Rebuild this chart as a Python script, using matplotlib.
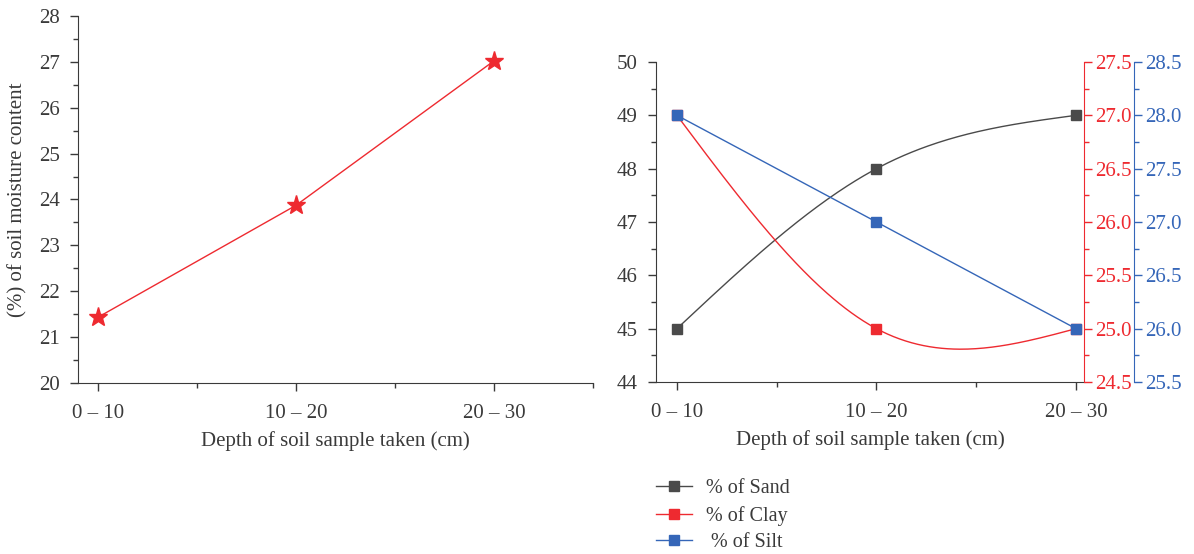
import numpy as np
import matplotlib.pyplot as plt
from matplotlib.ticker import MultipleLocator

plt.rcParams['font.family'] = ['Liberation Serif', 'DejaVu Serif']

depth_labels = ['0 – 10', '10 – 20', '20 – 30']
moisture = [21.43, 23.87, 27.02]
sand = [45, 48, 49]
clay = [27.0, 25.0, 25.0]
silt = [28.0, 27.0, 26.0]

GRAY = '#4a4a4a'
RED = '#ee2a30'
BLUE = '#3566b8'
TXT = '#3a3a3a'


def natural_spline(y, n=200):
    # natural cubic spline through equally spaced points (x = 0, 1, 2, ...)
    y = np.asarray(y, dtype=float)
    k = len(y)
    A = np.zeros((k, k))
    b = np.zeros(k)
    A[0, 0] = A[-1, -1] = 1
    for i in range(1, k - 1):
        A[i, i - 1:i + 2] = [1, 4, 1]
        b[i] = 6 * (y[i - 1] - 2 * y[i] + y[i + 1])
    M = np.linalg.solve(A, b)
    xs = np.linspace(0, k - 1, n)
    i = np.minimum(xs.astype(int), k - 2)
    t = xs - i
    ys = (y[i] * (1 - t) + y[i + 1] * t
          + M[i] / 6 * ((1 - t) ** 3 - (1 - t))
          + M[i + 1] / 6 * (t ** 3 - t))
    return xs, ys


fig = plt.figure(figsize=(11.94, 5.54), dpi=100)
x = np.arange(len(depth_labels))

# ---- left panel ----
ax1 = fig.add_axes([0.0653, 0.3087, 0.4313, 0.6625])
ax1.plot(x, moisture, color=RED, lw=1, marker='*', ms=14, mfc=RED, mec=RED)
ax1.set_xlim(-0.1, 2.5)
ax1.set_ylim(20, 28)
ax1.set_xticks(x)
ax1.set_xticklabels(depth_labels)
ax1.xaxis.set_minor_locator(MultipleLocator(0.5))
ax1.yaxis.set_major_locator(MultipleLocator(1))
ax1.yaxis.set_minor_locator(MultipleLocator(0.5))
ax1.set_xlabel('Depth of soil sample taken (cm)', fontsize=15, color=TXT, labelpad=6)
ax1.set_ylabel('(%) of soil moisture content', fontsize=15, color=TXT, labelpad=8)
for s in ['top', 'right']:
    ax1.spines[s].set_visible(False)

# ---- right panel ----
ax2 = fig.add_axes([0.5494, 0.3105, 0.3585, 0.5776])
ax3 = ax2.twinx()
ax4 = ax2.twinx()
ax4.spines['right'].set_position(('outward', 36))

xs, ys = natural_spline(sand)
ax2.plot(xs, ys, color=GRAY, lw=1)
ax2.plot(x, sand, ls='none', marker='s', ms=7, color=GRAY)
xs, ys = natural_spline(clay)
ax3.plot(xs, ys, color=RED, lw=1)
ax3.plot(x, clay, ls='none', marker='s', ms=7, color=RED)
xs, ys = natural_spline(silt)
ax4.plot(xs, ys, color=BLUE, lw=1)
ax4.plot(x, silt, ls='none', marker='s', ms=7, color=BLUE)

ax2.set_xlim(-0.105, 2.04)
ax2.set_ylim(44, 50)
ax3.set_ylim(24.5, 27.5)
ax4.set_ylim(25.5, 28.5)
ax2.set_xticks(x)
ax2.set_xticklabels(depth_labels)
ax2.xaxis.set_minor_locator(MultipleLocator(0.5))
ax2.yaxis.set_major_locator(MultipleLocator(1))
ax2.yaxis.set_minor_locator(MultipleLocator(0.5))
ax3.yaxis.set_major_locator(MultipleLocator(0.5))
ax3.yaxis.set_minor_locator(MultipleLocator(0.25))
ax4.yaxis.set_major_locator(MultipleLocator(0.5))
ax4.yaxis.set_minor_locator(MultipleLocator(0.25))
ax3.yaxis.set_major_formatter('{x:.1f}')
ax4.yaxis.set_major_formatter('{x:.1f}')
ax2.set_xlabel('Depth of soil sample taken (cm)', fontsize=15, color=TXT, labelpad=6)
ax2.spines['top'].set_visible(False)
ax2.spines['right'].set_visible(False)
for a in (ax3, ax4):
    a.spines['top'].set_visible(False)
    a.spines['left'].set_visible(False)
    a.spines['bottom'].set_visible(False)
ax3.spines['right'].set_color(RED)
ax4.spines['right'].set_color(BLUE)
ax3.tick_params(axis='y', which='both', colors=RED)
ax4.tick_params(axis='y', which='both', colors=BLUE)

for a in (ax1, ax2):
    for s in ['left', 'bottom']:
        a.spines[s].set_color(TXT)
    a.tick_params(which='both', colors=TXT)
    a.tick_params(axis='x', which='major', pad=9)
    a.tick_params(axis='y', which='major', pad=7)
for a in (ax1, ax2, ax3, ax4):
    a.tick_params(which='major', length=6, width=1, labelsize=15)
    a.tick_params(which='minor', length=3.5, width=1)
ax3.tick_params(axis='y', labelcolor=RED, pad=2)
ax4.tick_params(axis='y', labelcolor=BLUE, pad=2)

# ---- legend ----
h1 = plt.Line2D([], [], color=GRAY, lw=1, marker='s', ms=7)
h2 = plt.Line2D([], [], color=RED, lw=1, marker='s', ms=7)
h3 = plt.Line2D([], [], color=BLUE, lw=1, marker='s', ms=7)
fig.legend([h1, h2, h3], ['% of Sand', '% of Clay', ' % of Silt'],
           loc='upper left', bbox_to_anchor=(0.543, 0.15), frameon=False,
           fontsize=14.5, handlelength=1.75, labelspacing=0.38, handletextpad=0.7,
           borderaxespad=0, labelcolor=TXT)

fig.savefig('out.png', dpi=100)
